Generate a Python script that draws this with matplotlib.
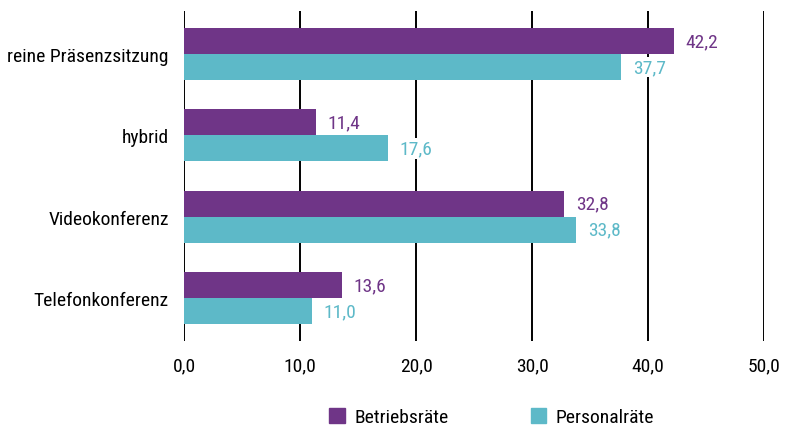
import matplotlib
matplotlib.use("Agg")
import matplotlib.pyplot as plt
from matplotlib.patches import Patch
import numpy as np

# ===== Data =====
categories = ["reine Präsenzsitzung", "hybrid", "Videokonferenz", "Telefonkonferenz"]
betriebsraete = [42.2, 11.4, 32.8, 13.6]
personalraete = [37.7, 17.6, 33.8, 11.0]
series_names = ["Betriebsräte", "Personalräte"]
xticks = [0, 10, 20, 30, 40, 50]

PURPLE = "#6F3587"
CYAN = "#5DB9C8"
FS = 14

plt.rcParams["font.family"] = ["Roboto Condensed", "Liberation Sans Narrow", "Roboto", "DejaVu Sans"]


def fmt(v):
    return f"{v:.1f}".replace(".", ",")


fig = plt.figure(figsize=(7.96, 4.31), dpi=100)
ax = fig.add_axes([0.2312, 0.2065, 0.7286, 0.7657])

y = np.arange(len(categories))
h = 0.32
ax.barh(y - h / 2, betriebsraete, height=h, color=PURPLE, zorder=3)
ax.barh(y + h / 2, personalraete, height=h, color=CYAN, zorder=3)

# value labels with white background (they hide the gridlines behind them)
box = dict(facecolor="white", edgecolor="none", pad=1.0)
for yi, v in zip(y, betriebsraete):
    ax.text(v + 1.0, yi - h / 2, fmt(v), color=PURPLE, fontsize=FS, va="center",
            ha="left", bbox=box, zorder=4)
for yi, v in zip(y, personalraete):
    ax.text(v + 1.0, yi + h / 2, fmt(v), color=CYAN, fontsize=FS, va="center",
            ha="left", bbox=box, zorder=4)

ax.set_xlim(0, 50)
ax.set_ylim(3.53, -0.53)
ax.set_xticks(xticks)
ax.set_xticklabels([fmt(t) for t in xticks], fontsize=FS)
ax.set_yticks(y)
ax.set_yticklabels(categories, fontsize=FS)
ax.tick_params(axis="both", length=0)
ax.tick_params(axis="x", pad=11)
ax.tick_params(axis="y", pad=11)

for s in ax.spines.values():
    s.set_visible(False)
for t in xticks:
    ax.axvline(t, color="black", linewidth=1.4, zorder=1)

handles = [Patch(color=PURPLE), Patch(color=CYAN)]
fig.legend(handles, series_names, loc="lower center", bbox_to_anchor=(0.618, -0.032),
           ncol=2, frameon=False, fontsize=FS, handlelength=0.8, handleheight=0.8,
           columnspacing=4.2, handletextpad=0.5)

fig.savefig("out.png", dpi=100)
